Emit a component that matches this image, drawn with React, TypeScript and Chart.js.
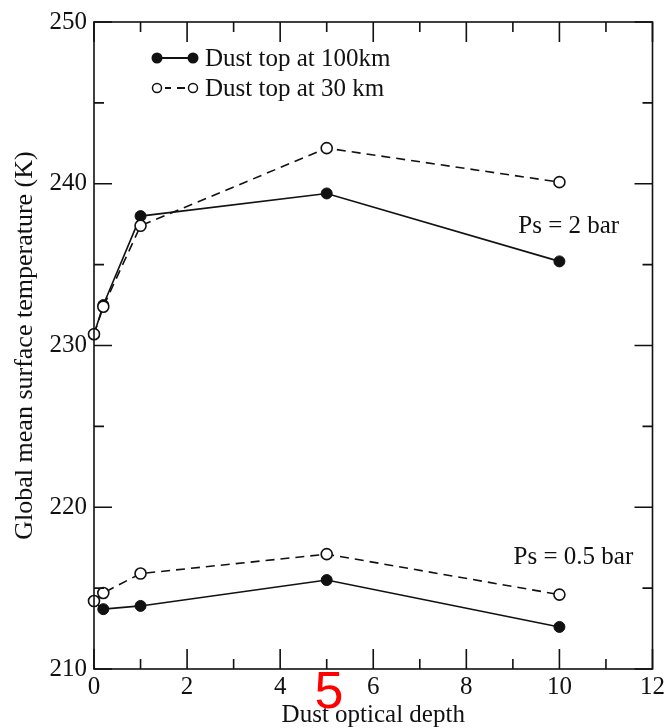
import React, { useEffect, useRef } from "react";
import { Chart, registerables } from "chart.js";

Chart.register(...registerables);

// ---- data ----
const depths = [0, 0.2, 1, 5, 10];
const top100_2bar = [230.7, 232.5, 238.0, 239.4, 235.2];
const top30_2bar = [230.7, 232.4, 237.4, 242.2, 240.1];
const top100_05bar = [214.2, 213.7, 213.9, 215.5, 212.6];
const top30_05bar = [214.2, 214.7, 215.9, 217.1, 214.6];

const legendLabels = ["Dust top at 100km", "Dust top at 30 km"];
const annotations = [
  { text: "Ps = 2 bar", x: 10.2, y: 237.35 },
  { text: "Ps = 0.5 bar", x: 10.3, y: 216.9 },
];
const xTickValues = [0, 1, 2, 3, 4, 5, 6, 7, 8, 9, 10, 11, 12];
const xMajorTicks = [0, 2, 4, 6, 8, 10, 12];
const yTickValues = [210, 215, 220, 225, 230, 235, 240, 245, 250];
const yMajorTicks = [210, 220, 230, 240, 250];

const SERIF = '"Liberation Serif", "Times New Roman", serif';

const toPts = (vals: number[]) => depths.map((d, i) => ({ x: d, y: vals[i] }));

const frameAndTicks = {
  id: "frameAndTicks",
  afterDatasetsDraw(chart: any) {
    const { ctx, chartArea } = chart;
    const { left, right, top, bottom } = chartArea;
    const xs = chart.scales.x;
    const ys = chart.scales.y;
    ctx.save();
    ctx.strokeStyle = "#111";
    ctx.lineWidth = 1.6;
    ctx.strokeRect(left, top, right - left, bottom - top);
    ctx.beginPath();
    xTickValues.forEach((v) => {
      const px = xs.getPixelForValue(v);
      const len = xMajorTicks.includes(v) ? 20 : 10;
      ctx.moveTo(px, bottom);
      ctx.lineTo(px, bottom - len);
      ctx.moveTo(px, top);
      ctx.lineTo(px, top + len);
    });
    yTickValues.forEach((v) => {
      const py = ys.getPixelForValue(v);
      const len = yMajorTicks.includes(v) ? 18 : 10;
      ctx.moveTo(left, py);
      ctx.lineTo(left + len, py);
      ctx.moveTo(right, py);
      ctx.lineTo(right - len, py);
    });
    ctx.stroke();

    // annotations
    ctx.fillStyle = "#111";
    ctx.font = `25px ${SERIF}`;
    ctx.textAlign = "center";
    ctx.textBaseline = "middle";
    annotations.forEach((a) => {
      ctx.fillText(a.text, xs.getPixelForValue(a.x), ys.getPixelForValue(a.y));
    });

    // legend
    const lx1 = 157;
    const lx2 = 193;
    const rows = [58, 88];
    ctx.textAlign = "left";
    ctx.font = `25px ${SERIF}`;
    // row 1: solid
    ctx.lineWidth = 2;
    ctx.setLineDash([]);
    ctx.beginPath();
    ctx.moveTo(lx1, rows[0]);
    ctx.lineTo(lx2, rows[0]);
    ctx.stroke();
    [lx1, lx2].forEach((x) => {
      ctx.beginPath();
      ctx.arc(x, rows[0], 5.5, 0, Math.PI * 2);
      ctx.fill();
    });
    ctx.fillText(legendLabels[0], 205, rows[0] + 1);
    // row 2: dashed open
    ctx.lineWidth = 2;
    ctx.beginPath();
    ctx.moveTo(lx1 + 8, rows[1]);
    ctx.lineTo(lx1 + 14, rows[1]);
    ctx.moveTo(lx1 + 20, rows[1]);
    ctx.lineTo(lx1 + 28, rows[1]);
    ctx.stroke();
    ctx.lineWidth = 1.5;
    [lx1, lx2].forEach((x) => {
      ctx.beginPath();
      ctx.arc(x, rows[1], 4.5, 0, Math.PI * 2);
      ctx.fillStyle = "#fff";
      ctx.fill();
      ctx.stroke();
    });
    ctx.fillStyle = "#111";
    ctx.fillText(legendLabels[1], 205, rows[1] + 1);
    ctx.restore();
  },
};

export default function App() {
  const ref = useRef<HTMLCanvasElement | null>(null);
  useEffect(() => {
    if (!ref.current) return;
    const solid = (vals: number[]) => ({
      data: toPts(vals),
      borderColor: "#111",
      borderWidth: 1.6,
      pointRadius: 5.5,
      pointBackgroundColor: "#111",
      pointBorderColor: "#111",
      pointBorderWidth: 1,
      tension: 0,
      clip: false as any,
      order: 2,
    });
    const dashed = (vals: number[]) => ({
      data: toPts(vals),
      borderColor: "#111",
      borderWidth: 1.6,
      borderDash: [9, 6],
      pointRadius: 5.5,
      pointBackgroundColor: "#fff",
      pointBorderColor: "#111",
      pointBorderWidth: 1.6,
      tension: 0,
      clip: false as any,
      order: 1,
    });
    const chart = new Chart(ref.current, {
      type: "line",
      data: {
        datasets: [
          { label: legendLabels[0], ...solid(top100_2bar) },
          { label: legendLabels[1], ...dashed(top30_2bar) },
          { label: legendLabels[0] + " 0.5", ...solid(top100_05bar) },
          { label: legendLabels[1] + " 0.5", ...dashed(top30_05bar) },
        ] as any,
      },
      options: {
        animation: false,
        responsive: false,
        layout: { padding: { top: 17, right: 14, left: 0, bottom: 0 } },
        plugins: { legend: { display: false }, tooltip: { enabled: false } },
        scales: {
          x: {
            type: "linear",
            min: 0,
            max: 12,
            afterFit: (s: any) => {
              s.height = 59;
            },
            ticks: {
              stepSize: 2,
              color: "#111",
              padding: 3,
              maxRotation: 0,
              font: { family: SERIF, size: 25 },
            },
            grid: { display: false, drawTicks: false },
            border: { display: false },
            title: {
              display: true,
              text: "Dust optical depth",
              color: "#111",
              font: { family: SERIF, size: 25, lineHeight: 1 },
              padding: { top: 0, bottom: 0 },
            },
          },
          y: {
            type: "linear",
            min: 210,
            max: 250,
            afterFit: (s: any) => {
              s.width = 94;
            },
            ticks: {
              stepSize: 10,
              color: "#111",
              padding: 7,
              font: { family: SERIF, size: 25 },
            },
            grid: { display: false, drawTicks: false },
            border: { display: false },
            title: {
              display: true,
              text: "Global mean surface temperature (K)",
              color: "#111",
              font: { family: SERIF, size: 26, lineHeight: 1 },
              padding: { top: 12, bottom: 0 },
            },
          },
        },
      },
      plugins: [frameAndTicks],
    });
    return () => chart.destroy();
  }, []);

  return (
    <div style={{ position: "absolute", left: 0, top: 0, width: 668, height: 728, background: "#fff", overflow: "hidden" }}>
      <canvas ref={ref} width={668} height={728} style={{ display: "block" }} />
      <div
        style={{
          position: "absolute",
          left: 303,
          top: 664,
          width: 52,
          textAlign: "center",
          fontFamily: '"Liberation Sans", Arial, sans-serif',
          fontSize: 52,
          lineHeight: "52px",
          color: "#ff0000",
        }}
      >
        5
      </div>
    </div>
  );
}
